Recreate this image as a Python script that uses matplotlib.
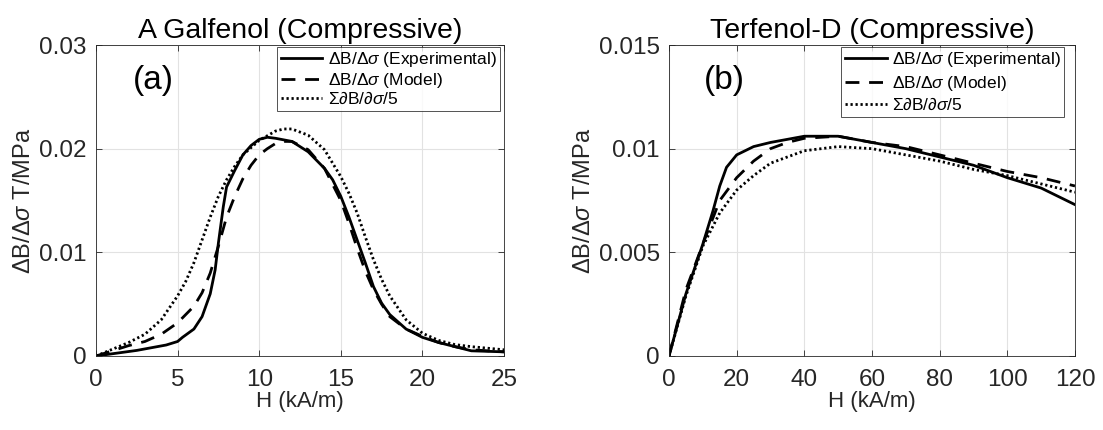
import matplotlib
matplotlib.use("Agg")
import matplotlib.pyplot as plt
from matplotlib.ticker import FixedLocator

plt.rcParams['font.family'] = ['Liberation Sans', 'DejaVu Sans']
plt.rcParams['mathtext.fontset'] = 'custom'
plt.rcParams['mathtext.rm'] = 'Liberation Sans'
plt.rcParams['mathtext.it'] = 'Liberation Sans:italic'
plt.rcParams['mathtext.fallback'] = 'stixsans'

# ---------------- Data: (a) Galfenol ----------------
ga_exp_h = [0, 2.5, 4.3, 5, 5.3, 6, 6.5, 7, 7.3, 7.5, 7.8, 8, 8.5, 9, 9.5, 10, 10.5,
            11, 12, 13, 14, 14.5, 15, 15.5, 16, 16.5, 17, 17.5, 18, 19, 20, 21, 22, 23, 25]
ga_exp_v = [0, 0.00054, 0.00106, 0.0014, 0.0018, 0.0026, 0.0038, 0.0060, 0.0083, 0.0109,
            0.0144, 0.0163, 0.0179, 0.0194, 0.0203, 0.0209, 0.0211, 0.0210, 0.0207, 0.0197,
            0.0181, 0.0170, 0.0154, 0.0134, 0.0112, 0.0090, 0.0067, 0.0051, 0.0040, 0.0026,
            0.0018, 0.0013, 0.0009, 0.0005, 0.0004]

ga_mod_h = [0, 2, 3, 4, 5, 6, 6.5, 7, 7.5, 8, 8.5, 9, 9.5, 10, 10.5, 11, 11.5, 12, 13, 14,
            15, 15.5, 16, 16.5, 17, 17.5, 18, 19, 20, 21, 22, 23, 25]
ga_mod_v = [0, 0.0010, 0.0014, 0.0021, 0.0032, 0.0048, 0.0061, 0.0080, 0.0106, 0.0134,
            0.0154, 0.0171, 0.0184, 0.0194, 0.0200, 0.0205, 0.0207, 0.0207, 0.0199, 0.0181,
            0.0150, 0.0128, 0.0104, 0.0082, 0.0064, 0.0050, 0.0038, 0.0026, 0.0019, 0.0013,
            0.0009, 0.0006, 0.0004]

ga_sum_h = [0, 2, 3, 4, 5, 5.5, 6, 6.5, 7, 7.5, 8, 8.5, 9, 10, 11, 11.5, 12, 13, 14, 15,
            15.5, 16, 16.5, 17, 17.5, 18, 19, 20, 21, 22, 23, 25]
ga_sum_v = [0, 0.0013, 0.0021, 0.0035, 0.0058, 0.0072, 0.0090, 0.0112, 0.0134, 0.0154,
            0.0170, 0.0183, 0.0194, 0.0208, 0.0217, 0.0219, 0.0219, 0.0213, 0.0199, 0.0173,
            0.0157, 0.0138, 0.0115, 0.0093, 0.0074, 0.0058, 0.0035, 0.0022, 0.0015, 0.0011,
            0.0009, 0.0006]

# ---------------- Data: (b) Terfenol-D ----------------
tf_exp_h = [0, 5, 10, 13, 15, 17, 20, 25, 30, 40, 50, 60, 70, 80, 90, 100, 110, 120]
tf_exp_v = [0, 0.0030, 0.0054, 0.0070, 0.0082, 0.0091, 0.0097, 0.0101, 0.0103, 0.0106,
            0.0106, 0.0103, 0.0100, 0.0096, 0.0092, 0.0086, 0.0081, 0.0073]

tf_mod_h = [0, 5, 10, 15, 20, 25, 30, 35, 40, 50, 60, 70, 80, 90, 100, 110, 120]
tf_mod_v = [0, 0.0032, 0.0054, 0.0075, 0.0086, 0.0094, 0.0100, 0.0103, 0.0105, 0.0106,
            0.0103, 0.0101, 0.0097, 0.0093, 0.0089, 0.0086, 0.0082]

tf_sum_h = [0, 5, 10, 15, 20, 25, 30, 40, 50, 60, 70, 80, 90, 100, 110, 120]
tf_sum_v = [0, 0.0029, 0.0053, 0.0069, 0.0080, 0.0087, 0.0093, 0.0099, 0.0101, 0.0100,
            0.0097, 0.0094, 0.0090, 0.0087, 0.0083, 0.0079]

labels = [r'$\Delta$B/$\Delta\sigma$ (Experimental)',
          r'$\Delta$B/$\Delta\sigma$ (Model)',
          r'$\Sigma\partial$B/$\partial\sigma$/5']

ga_xticks = [0, 5, 10, 15, 20, 25]
ga_yticks = [0, 0.01, 0.02, 0.03]
ga_yticklabels = ['0', '0.01', '0.02', '0.03']
tf_xticks = [0, 20, 40, 60, 80, 100, 120]
tf_yticks = [0, 0.005, 0.01, 0.015]
tf_yticklabels = ['0', '0.005', '0.01', '0.015']

W, H = 1103, 430
fig = plt.figure(figsize=(W / 100, H / 100), dpi=100)
axA = fig.add_axes([96 / W, (H - 356) / H, 408 / W, 311 / H])
axB = fig.add_axes([669 / W, (H - 356) / H, 406 / W, 311 / H])

tc = '#262626'

def style(ax, xt, yt, ytl, xlim, ylim, title, tag, tagx, legx, legspacing):
    ax.set_xlim(*xlim)
    ax.set_ylim(*ylim)
    ax.xaxis.set_major_locator(FixedLocator(xt))
    ax.yaxis.set_major_locator(FixedLocator(yt))
    ax.set_xticklabels([str(v) for v in xt])
    ax.set_yticklabels(ytl)
    ax.tick_params(direction='in', length=4, width=0.6, labelsize=17.5, colors=tc,
                   top=True, right=True)
    ax.tick_params(axis='x', pad=9)
    ax.tick_params(axis='y', pad=6.5)
    ax.grid(True, color='#e2e2e2', linewidth=0.8)
    ax.set_axisbelow(True)
    for s in ax.spines.values():
        s.set_color(tc)
        s.set_linewidth(0.6)
    ax.set_xlabel('H (kA/m)', fontsize=16, color=tc, labelpad=0)
    ax.set_ylabel(r'$\Delta$B/$\Delta\sigma$ T/MPa', fontsize=17, color=tc, labelpad=3)
    ax.set_title(title, fontsize=20.5, color='black', pad=5)
    ax.text(tagx, 0.887, tag, transform=ax.transAxes, fontsize=24, va='center', ha='left')
    leg = ax.legend(loc='upper right', bbox_to_anchor=(legx, 0.994), fontsize=12.5,
                    frameon=True, fancybox=False, edgecolor=tc, borderpad=0.2,
                    labelspacing=legspacing, handlelength=2.4, handletextpad=0.3,
                    borderaxespad=0.0)
    leg.get_frame().set_linewidth(0.7)

lw = 2.0
dash = (0, (5, 3.5))
dot = (0, (0.8, 1.0))
axA.plot(ga_exp_h, ga_exp_v, color='black', lw=lw, ls='-', label=labels[0])
axA.plot(ga_mod_h, ga_mod_v, color='black', lw=lw, ls=dash, label=labels[1])
axA.plot(ga_sum_h, ga_sum_v, color='black', lw=lw, ls=dot, label=labels[2])
style(axA, ga_xticks, ga_yticks, ga_yticklabels, (0, 25), (0, 0.03),
      'A Galfenol (Compressive)', '(a)', 0.09, 0.990, 0.08)

axB.plot(tf_exp_h, tf_exp_v, color='black', lw=lw, ls='-', label=labels[0])
axB.plot(tf_mod_h, tf_mod_v, color='black', lw=lw, ls=dash, label=labels[1])
axB.plot(tf_sum_h, tf_sum_v, color='black', lw=lw, ls=dot, label=labels[2])
style(axB, tf_xticks, tf_yticks, tf_yticklabels, (0, 120), (0, 0.015),
      'Terfenol-D (Compressive)', '(b)', 0.085, 0.973, 0.25)

fig.savefig('out.png', dpi=100)
